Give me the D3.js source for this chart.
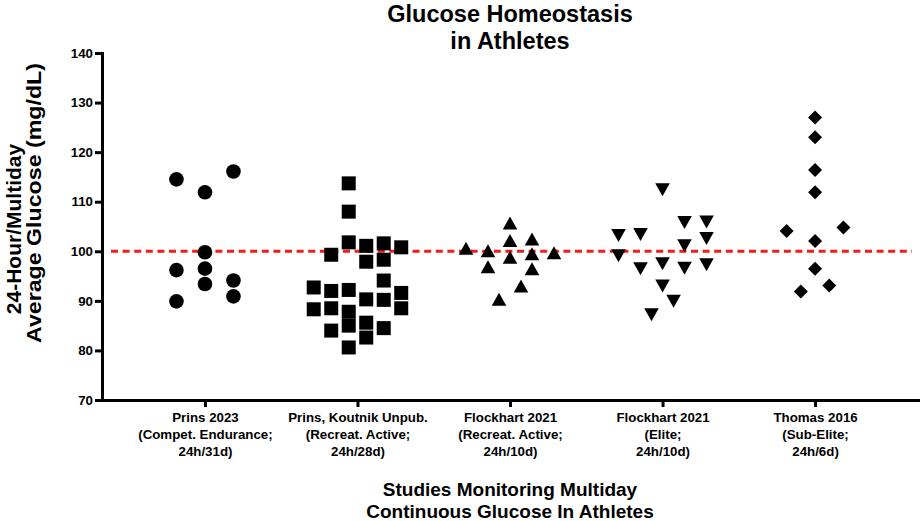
<!DOCTYPE html>
<html>
<head>
<meta charset="utf-8">
<script src="https://cdn.jsdelivr.net/npm/d3@7.9.0/dist/d3.min.js"></script>
<style>
  html, body { margin: 0; padding: 0; background: #fff; }
  svg { display: block; font-family: "Liberation Sans", Arial, sans-serif; font-weight: bold; }
  .axis path, .axis line { stroke: #000; stroke-width: 3; }
  .axis text { font-size: 13.3px; font-weight: bold; fill: #000; font-family: "Liberation Sans", Arial, sans-serif; }
</style>
</head>
<body>
<svg width="920" height="521"></svg>
<script>
// study labels, one line per entry
const studyLabels = [
    ["Prins 2023", "(Compet. Endurance;", "24h/31d)"],
    ["Prins, Koutnik Unpub.", "(Recreat. Active;", "24h/28d)"],
    ["Flockhart 2021", "(Recreat. Active;", "24h/10d)"],
    ["Flockhart 2021", "(Elite;", "24h/10d)"],
    ["Thomas 2016", "(Sub-Elite;", "24h/6d)"]
];

const yTicks = [70, 80, 90, 100, 110, 120, 130, 140];
const reference = 100;

// average glucose (mg/dL) per athlete, with the scatter lane each point sits in
const prins2023 = [114.5, 111.9, 116.1, 99.8, 96.2, 96.5, 93.4, 94.1, 89.9, 90.9];
const prins2023Lanes = [-1, 0, 1, 0, -1, 0, 0, 1, -1, 1];

const prinsKoutnik = [
    113.7, 108.0, 101.8, 92.2, 87.8, 85.0, 80.6,
    92.7, 88.3,
    99.3, 92.0, 88.5, 84.0,
    101.1, 97.9, 90.3, 85.6, 82.6,
    101.6, 98.3, 94.1, 90.2, 84.5,
    100.8, 91.6, 88.5
];
const prinsKoutnikLanes = [
    -0.5, -0.5, -0.5, -0.5, -0.5, -0.5, -0.5,
    -2.5, -2.5,
    -1.5, -1.5, -1.5, -1.5,
    0.5, 0.5, 0.5, 0.5, 0.5,
    1.5, 1.5, 1.5, 1.5, 1.5,
    2.5, 2.5, 2.5
];

const flockhartRec = [100.6, 100.1, 96.9, 105.7, 102.2, 98.8, 102.5, 99.5, 96.5, 93.0, 90.3, 99.7];
const flockhartRecLanes = [-4, -2, -2, 0, 0, 0, 2, 2, 2, 1, -1, 4];

const flockhartElite = [103.2, 99.1, 103.4, 96.5, 112.4, 97.5, 93.0, 105.8, 101.1, 96.6, 105.9, 102.6, 97.3, 89.9, 87.2];
const flockhartEliteLanes = [-4, -4, -2, -2, 0, 0, 0, 2, 2, 2, 4, 4, 4, 1, -1];

const thomas2016 = [127.0, 123.0, 116.4, 111.9, 104.1, 104.8, 102.1, 96.5, 93.1, 91.9];
const thomas2016Lanes = [0, 0, 0, 0, -2, 2, 0, 0, 1, -1];

const groups = [
    { values: prins2023, lanes: prins2023Lanes, shape: "circle", laneStep: 28.5 },
    { values: prinsKoutnik, lanes: prinsKoutnikLanes, shape: "square", laneStep: 17.5 },
    { values: flockhartRec, lanes: flockhartRecLanes, shape: "triangle", laneStep: 11 },
    { values: flockhartElite, lanes: flockhartEliteLanes, shape: "triangleDown", laneStep: 11 },
    { values: thomas2016, lanes: thomas2016Lanes, shape: "diamond", laneStep: 14.2 }
];

const plotLeft = 102, plotRight = 918, plotTop = 53, plotBottom = 400;

const svg = d3.select("svg");

const x = d3.scalePoint()
    .domain(d3.range(studyLabels.length))
    .range([plotLeft, plotRight])
    .padding(0.675);

const y = d3.scaleLinear()
    .domain([70, 140])
    .range([plotBottom, plotTop]);

// marker paths, centred on their bounding box
function markerPath(shape) {
    if (shape === "circle") {
        const r = 7.3;
        return `M${-r},0A${r},${r} 0 1,0 ${r},0A${r},${r} 0 1,0 ${-r},0Z`;
    }
    if (shape === "square") {
        const s = 7;
        return `M${-s},${-s}H${s}V${s}H${-s}Z`;
    }
    if (shape === "triangle") {
        return "M0,-6.5L7.3,6.5L-7.3,6.5Z";
    }
    if (shape === "triangleDown") {
        return "M0,6.5L7.3,-6.5L-7.3,-6.5Z";
    }
    return "M0,-7L7,0L0,7L-7,0Z";
}

// reference line at 100 mg/dL
svg.append("line")
    .attr("x1", plotLeft + 9)
    .attr("x2", plotRight - 6)
    .attr("y1", y(reference))
    .attr("y2", y(reference))
    .attr("stroke", "#f21b1b")
    .attr("stroke-width", 3)
    .attr("stroke-dasharray", "7,4.6");

// points
groups.forEach((g, i) => {
    svg.append("g")
        .selectAll("path")
        .data(g.values)
        .join("path")
        .attr("d", markerPath(g.shape))
        .attr("transform", (d, j) => `translate(${x(i) + g.lanes[j] * g.laneStep},${y(d)})`)
        .attr("fill", "#000");
});

// y axis
const yAxis = svg.append("g")
    .attr("class", "axis")
    .attr("transform", `translate(${plotLeft},0)`)
    .call(d3.axisLeft(y).tickValues(yTicks).tickSize(7).tickSizeOuter(0).tickPadding(2));
yAxis.select(".domain").attr("stroke-linecap", "square");

// x axis
const xAxis = svg.append("g")
    .attr("class", "axis")
    .attr("transform", `translate(0,${plotBottom})`)
    .call(d3.axisBottom(x).tickSize(7).tickSizeOuter(0).tickFormat(""));
xAxis.select(".domain").attr("stroke-linecap", "square");

// multi-line category labels
xAxis.selectAll(".tick").each(function (d) {
    const t = d3.select(this).append("text")
        .attr("fill", "#000")
        .attr("text-anchor", "middle");
    studyLabels[d].forEach((line, k) => {
        t.append("tspan")
            .attr("x", 0)
            .attr("y", 22 + k * 17)
            .text(line);
    });
});

// title
const title = svg.append("text")
    .attr("text-anchor", "middle")
    .attr("font-size", 23.5)
    .attr("fill", "#000");
["Glucose Homeostasis", "in Athletes"].forEach((line, k) => {
    title.append("tspan")
        .attr("x", (plotLeft + plotRight) / 2)
        .attr("y", 21.5 + k * 27)
        .text(line);
});

// x title
const xTitle = svg.append("text")
    .attr("text-anchor", "middle")
    .attr("font-size", 19)
    .attr("fill", "#000");
["Studies Monitoring Multiday", "Continuous Glucose In Athletes"].forEach((line, k) => {
    xTitle.append("tspan")
        .attr("x", (plotLeft + plotRight) / 2)
        .attr("y", 496 + k * 22)
        .text(line);
});

// y title, two rotated lines
const yTitleLines = [
    { text: "24-Hour/Multiday", base: 21, mid: 229, length: null },
    { text: "Average Glucose (mg/dL)", base: 41, mid: 203, length: 280 }
];
yTitleLines.forEach(l => {
    const t = svg.append("text")
        .attr("transform", `translate(${l.base},${l.mid}) rotate(-90)`)
        .attr("text-anchor", "middle")
        .attr("font-size", 21)
        .attr("fill", "#000")
        .text(l.text);
    if (l.length) {
        t.attr("textLength", l.length).attr("lengthAdjust", "spacingAndGlyphs");
    }
});
</script>
</body>
</html>
